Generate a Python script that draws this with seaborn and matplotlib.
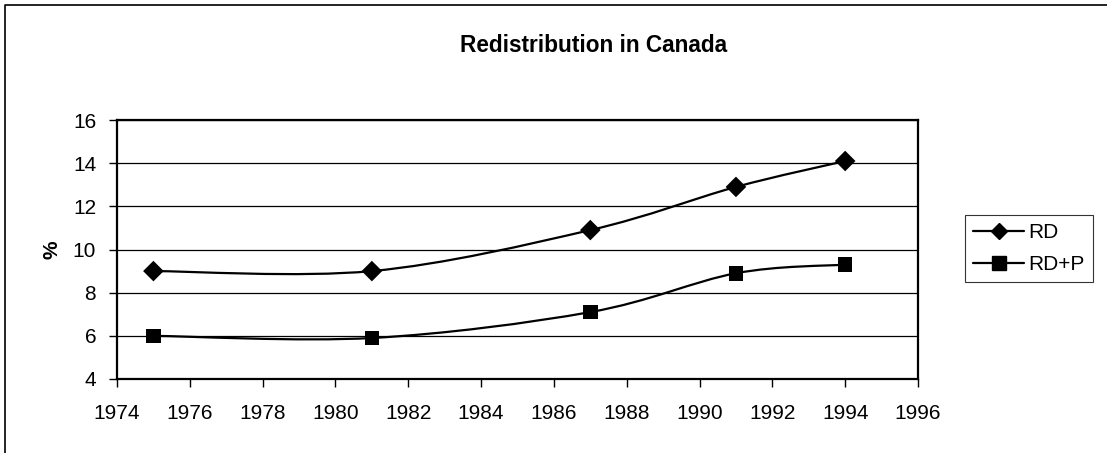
import matplotlib
matplotlib.use('Agg')
import matplotlib.pyplot as plt
import numpy as np
import pandas as pd
import seaborn as sns
from matplotlib.path import Path
from matplotlib.patches import PathPatch
from matplotlib.lines import Line2D

# data
years = [1975, 1981, 1987, 1991, 1994]
rd = [9.0, 9.0, 10.9, 12.9, 14.1]
rd_p = [6.0, 5.9, 7.1, 8.9, 9.3]

sns.set_theme(style='white')
plt.rcParams['font.family'] = ['Liberation Sans', 'DejaVu Sans']
plt.rcParams['text.color'] = 'black'

fig = plt.figure(figsize=(11.07, 4.53), dpi=100)
ax = fig.add_axes([117 / 1107, 1 - 379 / 453, (918 - 117) / 1107, (379 - 120) / 453])

df = pd.DataFrame({'year': years * 2,
                   'value': rd + rd_p,
                   'series': ['RD'] * len(years) + ['RD+P'] * len(years)})


def smooth_path(xs, ys):
    # Excel-style smoothed line: Catmull-Rom segments drawn as cubic Bezier curves
    pts = np.column_stack([xs, ys]).astype(float)
    verts = [pts[0]]
    codes = [Path.MOVETO]
    n = len(pts)
    for i in range(n - 1):
        p0 = pts[max(i - 1, 0)]
        p1 = pts[i]
        p2 = pts[i + 1]
        p3 = pts[min(i + 2, n - 1)]
        c1 = p1 + (p2 - p0) / 6.0
        c2 = p2 - (p3 - p1) / 6.0
        verts += [c1, c2, p2]
        codes += [Path.CURVE4] * 3
    return Path(verts, codes)


for name, ys in [('RD', rd), ('RD+P', rd_p)]:
    ax.add_patch(PathPatch(smooth_path(years, ys), facecolor='none',
                           edgecolor='black', lw=1.6, zorder=3))

sns.scatterplot(data=df, x='year', y='value', style='series',
                markers={'RD': 'D', 'RD+P': 's'}, color='black',
                s=110, edgecolor='black', linewidth=0, ax=ax, legend=False,
                zorder=4)
for coll in ax.collections:
    coll.set_clip_on(False)

ax.set_xlim(1974, 1996)
ax.set_ylim(4, 16)
ax.set_xticks(range(1974, 1997, 2))
ax.set_yticks(range(4, 17, 2))
ax.grid(axis='y', color='black', lw=0.9)
ax.grid(axis='x', visible=False)
ax.set_axisbelow(True)
for sp in ax.spines.values():
    sp.set_color('black')
    sp.set_linewidth(1.6)
ax.tick_params(axis='both', which='both', direction='out', length=6,
               width=1, color='black', labelsize=15, labelcolor='black',
               bottom=True, left=True)
ax.tick_params(axis='y', pad=9)
ax.tick_params(axis='x', pad=12)
ax.set_xlabel('')
ax.set_ylabel('')
fig.text(52 / 1107, 1 - 250 / 453, '%', rotation=90, ha='center', va='center',
         fontsize=15, fontweight='bold')

fig.text(594 / 1107, 1 - 45 / 453, 'Redistribution in Canada', ha='center',
         va='center', fontsize=16.3, fontweight='bold')

handles = [Line2D([], [], color='black', lw=1.6, marker='D', markersize=8),
           Line2D([], [], color='black', lw=1.6, marker='s', markersize=10)]
leg = fig.legend(handles, ['RD', 'RD+P'], loc='upper left',
                 bbox_to_anchor=(965 / 1107, 1 - 215 / 453), fontsize=15,
                 frameon=True, fancybox=False, shadow=False,
                 handlelength=2.45, handletextpad=0.2, borderpad=0.4,
                 labelspacing=0.6, borderaxespad=0)
leg.get_frame().set_edgecolor('black')
leg.get_frame().set_linewidth(0.8)

# outer chart border (only top and left edges are visible in the original)
fig.add_artist(Line2D([5 / 1107, 5 / 1107, 1], [0, 1 - 5 / 453, 1 - 5 / 453],
                      color='black', lw=1.2, transform=fig.transFigure))

fig.savefig('out.png', dpi=100)
